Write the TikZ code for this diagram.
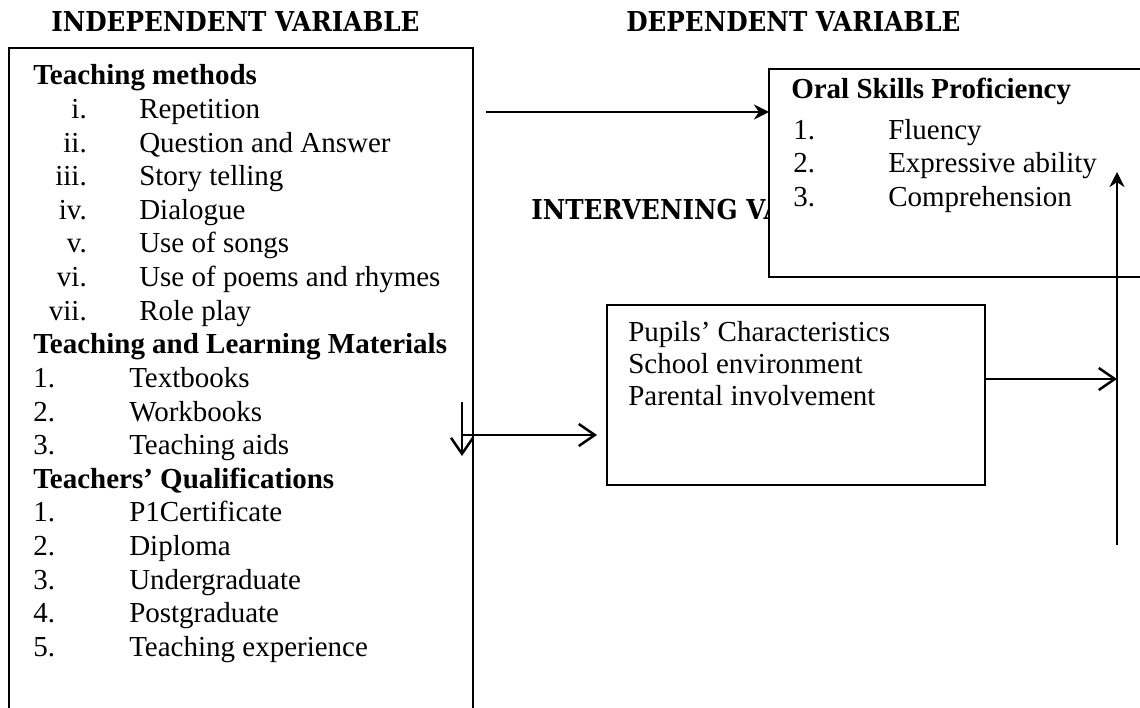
\documentclass[tikz,border=0pt]{standalone}
\usepackage{fontspec}
\setmainfont{Liberation Serif}
\newfontfamily\headfont[FakeStretch=0.9]{DejaVu Serif}
\usetikzlibrary{positioning, arrows.meta}

\begin{document}
\begin{tikzpicture}[
    x = 1pt,
    y = -1pt,
    line width = 2.5pt,
    font = \fontsize{29}{33}\selectfont
]

% Setup the styles for the boxes and the texts
\tikzstyle{box}=[draw=black, rectangle, anchor=north west, inner sep=0pt, outer sep=0pt]
\tikzstyle{title}=[anchor=base west, inner sep=0pt, font=\headfont\bfseries\fontsize{27.4}{30}\selectfont]
\tikzstyle{head}=[anchor=base west, inner sep=0pt, font=\bfseries\fontsize{29}{33}\selectfont]
\tikzstyle{txt}=[anchor=base west, inner sep=0pt]
\tikzstyle{num}=[anchor=base east, inner sep=0pt]
\tikzstyle{barb}=[-{Straight Barb[length=16pt, width=22pt]}]
\tikzstyle{filltip}=[-{Stealth[length=15pt, width=15pt]}]

\useasboundingbox (0,0) rectangle (1140,708);
\clip (0,0) rectangle (1140,708);

% Draw the titles
\node[title] (tind) at (50,32) {INDEPENDENT VARIABLE};
\node[title] (tdep) at (625,32) {DEPENDENT VARIABLE};
\node[title] (tint) at (530,220) {INTERVENING VARIABLE};

% Draw the boxes
\node[box, minimum width=464pt, minimum height=700pt] (indep) at (9,48) {};
\node[box, fill=white, minimum width=420pt, minimum height=208pt] (dep) at (769,69) {};
\node[box, minimum width=378pt, minimum height=180pt] (inter) at (607,305) {};

% Independent variable
\node[head] (tm) at (32,85) {Teaching methods};
\foreach \n/\t [count=\k] in {i./Repetition, ii./Question and Answer, iii./Story telling,
    iv./Dialogue, v./Use of songs, vi./Use of poems and rhymes, vii./Role play}
{
    \node[num] (tmn\k) at (88,85+33.6*\k) {\n};
    \node[txt] (tm\k) at (138,85+33.6*\k) {\t};
}
\node[head] (tlm) at (32,353.8) {Teaching and Learning Materials};
\foreach \t [count=\k] in {Textbooks, Workbooks, Teaching aids}
{
    \node[txt] (tlmn\k) at (32,353.8+33.6*\k) {\k.};
    \node[txt] (tlm\k) at (128,353.8+33.6*\k) {\t};
}
\node[head] (tq) at (32,488.2) {Teachers’ Qualifications};
\foreach \t [count=\k] in {P1Certificate, Diploma, Undergraduate, Postgraduate, Teaching experience}
{
    \node[txt] (tqn\k) at (32,488.2+33.6*\k) {\k.};
    \node[txt] (tq\k) at (128,488.2+33.6*\k) {\t};
}

% Dependent variable
\node[head] (osp) at (790,99) {Oral Skills Proficiency};
\foreach \t [count=\k] in {Fluency, Expressive ability, Comprehension}
{
    \node[txt] (ospn\k) at (792,105.5+33.6*\k) {\k.};
    \node[txt] (osp\k) at (887,105.5+33.6*\k) {\t};
}

% Intervening variable
\node[txt] (pc) at (627,342) {Pupils’ Characteristics};
\node[txt] (se) at (627,373.6) {School environment};
\node[txt] (pi) at (627,405.2) {Parental involvement};

% Draw the connectors
\coordinate (a0) at (486,112);
\draw[filltip] (a0) -- (a0 -| dep.west);

\coordinate (d0) at (462,402);
\coordinate (d1) at (462,456);
\draw[barb] (d0) -- (d1);

\coordinate (s0) at (462,435);
\draw[barb, shorten >=10pt] (s0) -- (s0 -| inter.west);

\coordinate (h0) at (985,379);
\coordinate (v0) at (1117,545);
\coordinate (v1) at (1117,172);
\draw[barb] (h0) -- (h0 -| v0);
\draw[filltip] (v0) -- (v1);

\end{tikzpicture}
\end{document}
